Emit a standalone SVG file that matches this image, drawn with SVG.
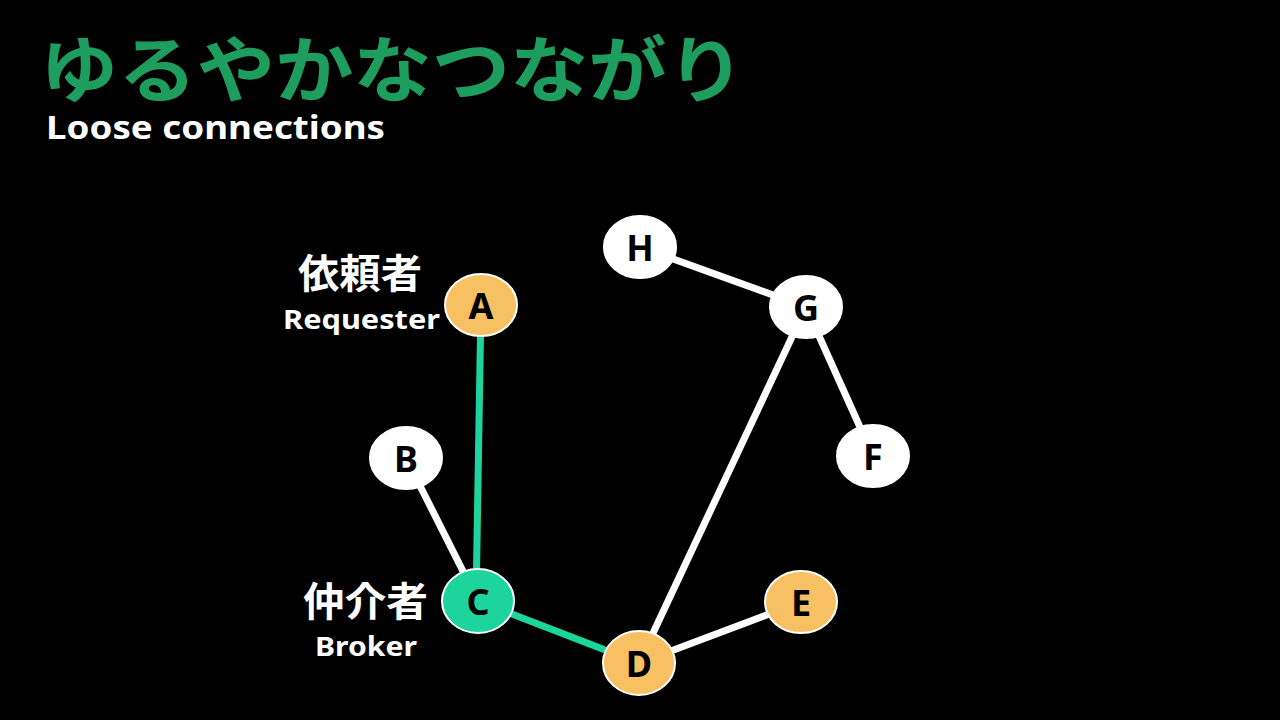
<svg xmlns="http://www.w3.org/2000/svg" width="1280" height="720" viewBox="0 0 1280 720">
<style>
.n ellipse{stroke:#fff;stroke-width:2}
.w{fill:#fff}.o{fill:#F7C062}.g{fill:#1DD59C}
.n text{font-family:"Noto Sans","Liberation Sans",sans-serif;font-weight:bold;font-size:36px;fill:#000;text-anchor:middle;dominant-baseline:central}
.e line{stroke-width:7;stroke:#fff}
.e line.gl{stroke:#1DD59C}
.lb{font-family:"Noto Sans","Noto Sans CJK JP",sans-serif;font-weight:bold;fill:#fff}
</style>
<rect width="1280" height="720" fill="#000"/>
<text x="40" y="96" font-family="Noto Sans CJK JP,sans-serif" font-weight="bold" font-size="72" fill="#1E9E5E" textLength="705" lengthAdjust="spacingAndGlyphs">ゆるやかなつながり</text>
<text x="46" y="139" font-family="Noto Sans,Liberation Sans,sans-serif" font-weight="bold" font-size="33" fill="#fff" textLength="339" lengthAdjust="spacingAndGlyphs">Loose connections</text>
<g class="e">
<line class="gl" x1="481" y1="305" x2="476" y2="601"/>
<line class="gl" x1="478" y1="601" x2="639" y2="663"/>
<line x1="406" y1="458" x2="478" y2="601"/>
<line x1="639" y1="663" x2="801" y2="602"/>
<line x1="639" y1="663" x2="806" y2="307"/>
<line x1="806" y1="307" x2="873" y2="456"/>
<line x1="640" y1="247" x2="806" y2="307"/>
</g>
<g id="A" class="n"><ellipse class="o" cx="481" cy="305" rx="36" ry="31"/><text x="481" y="305">A</text></g>
<g id="B" class="n"><ellipse class="w" cx="406" cy="458" rx="36" ry="31"/><text x="406" y="458">B</text></g>
<g id="C" class="n"><ellipse class="g" cx="478" cy="601" rx="36" ry="32"/><text x="478" y="601">C</text></g>
<g id="D" class="n"><ellipse class="o" cx="639" cy="663" rx="36" ry="32"/><text x="639" y="663">D</text></g>
<g id="E" class="n"><ellipse class="o" cx="801" cy="602" rx="36" ry="31"/><text x="801" y="602">E</text></g>
<g id="F" class="n"><ellipse class="w" cx="873" cy="456" rx="36" ry="31"/><text x="873" y="456">F</text></g>
<g id="G" class="n"><ellipse class="w" cx="806" cy="307" rx="36" ry="31"/><text x="806" y="307">G</text></g>
<g id="H" class="n"><ellipse class="w" cx="640" cy="247" rx="36" ry="31"/><text x="640" y="247">H</text></g>
<text class="lb" x="298" y="288" font-size="40" textLength="124" lengthAdjust="spacingAndGlyphs">依頼者</text>
<text class="lb" x="283" y="329" font-size="27" textLength="157" lengthAdjust="spacingAndGlyphs">Requester</text>
<text class="lb" x="303" y="616" font-size="40" textLength="125" lengthAdjust="spacingAndGlyphs">仲介者</text>
<text class="lb" x="315" y="656" font-size="27" textLength="102" lengthAdjust="spacingAndGlyphs">Broker</text>
</svg>
